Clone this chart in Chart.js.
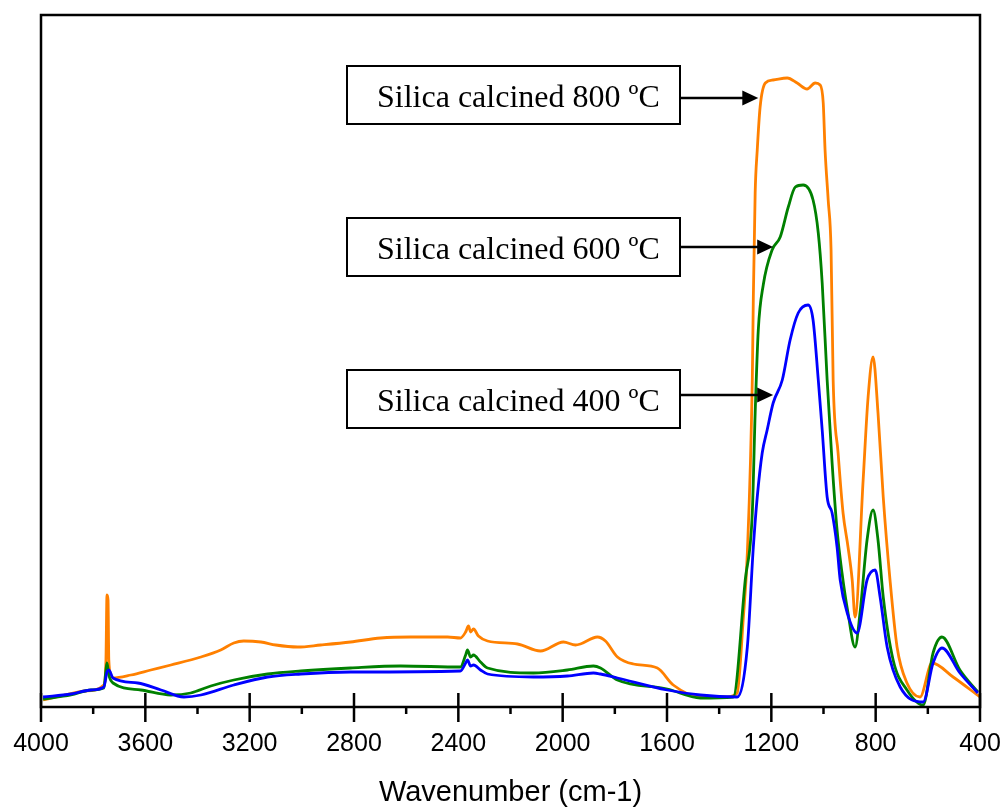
<!DOCTYPE html>
<html>
<head>
<meta charset="utf-8">
<script src="https://cdn.jsdelivr.net/npm/chart.js@4/dist/chart.umd.min.js"></script>
<style>
  html, body { margin: 0; padding: 0; background: #fff; }
  #wrap { width: 1005px; height: 812px; position: relative; }
</style>
</head>
<body>
<div id="wrap"><canvas id="c" width="1005" height="812"></canvas></div>
<script>
// ---- Data (wavenumber in cm-1, absorbance in arbitrary units) ----
const wn800 = [3992,3923,3828,3759,3751,3747,3743,3740,3732,3724,3655,3579,3502,3387,3311,3261,3223,3157,3100,3016,2928,2813,2698,2583,2441,2392,2372,2361,2353,2342,2323,2288,2173,2085,1997,1951,1932,1867,1836,1790,1729,1637,1576,1472,1369,1331,1308,1292,1273,1269,1262,1254,1243,1223,1193,1139,1101,1063,1032,1013,1001,994,982,971,963,944,925,906,890,879,848,829,810,791,771,745,718,680,630,584,503,400];
const abs800 = [0.07,0.11,0.16,0.22,0.47,1.12,1.07,0.47,0.32,0.29,0.32,0.37,0.42,0.50,0.57,0.64,0.66,0.65,0.62,0.60,0.62,0.65,0.69,0.70,0.70,0.69,0.75,0.81,0.75,0.78,0.71,0.66,0.63,0.56,0.65,0.62,0.63,0.70,0.66,0.50,0.43,0.39,0.22,0.10,0.10,0.14,0.87,1.54,3.27,4.10,5.14,5.57,6.00,6.24,6.27,6.29,6.24,6.18,6.24,6.22,6.04,5.57,5.07,4.57,3.27,2.54,1.94,1.60,1.27,0.90,2.27,3.10,3.50,2.94,2.10,1.27,0.60,0.24,0.10,0.44,0.30,0.10];

const wn600 = [3992,3885,3808,3759,3751,3747,3740,3724,3617,3502,3426,3349,3261,3131,3004,2813,2621,2392,2372,2365,2353,2342,2315,2288,2112,1982,1882,1855,1790,1599,1472,1346,1300,1273,1262,1250,1231,1197,1166,1135,1108,1078,1040,1020,1005,986,967,948,929,906,879,860,833,810,791,771,733,680,618,580,546,477,408];
const abs600 = [0.08,0.12,0.17,0.19,0.37,0.44,0.32,0.24,0.17,0.12,0.14,0.21,0.27,0.33,0.36,0.39,0.41,0.40,0.52,0.57,0.50,0.52,0.45,0.39,0.34,0.37,0.41,0.39,0.27,0.18,0.09,0.10,1.27,1.94,2.94,3.77,4.22,4.57,4.70,5.00,5.20,5.22,5.07,4.74,4.24,3.27,2.44,1.77,1.34,0.94,0.60,0.94,1.67,1.97,1.67,1.10,0.47,0.17,0.02,0.54,0.70,0.37,0.15];

const wn400 = [3992,3885,3808,3759,3747,3740,3724,3629,3540,3452,3387,3261,3131,3004,2813,2392,2372,2365,2353,2342,2315,2288,2112,1982,1882,1855,1790,1599,1472,1331,1292,1269,1254,1235,1216,1193,1158,1128,1097,1059,1040,1020,1005,986,967,948,936,909,871,833,802,783,756,706,618,580,546,477,408];
const abs400 = [0.10,0.13,0.17,0.20,0.35,0.37,0.29,0.24,0.17,0.10,0.12,0.22,0.30,0.33,0.35,0.36,0.44,0.47,0.41,0.42,0.37,0.33,0.30,0.31,0.34,0.33,0.29,0.17,0.12,0.10,0.60,1.60,2.10,2.54,2.77,3.04,3.27,3.67,3.94,4.02,3.87,3.27,2.77,2.10,1.94,1.60,1.27,0.94,0.74,1.27,1.37,1.10,0.60,0.20,0.05,0.44,0.59,0.34,0.14];

const seriesLabels = ['Silica calcined 400 ºC', 'Silica calcined 600 ºC', 'Silica calcined 800 ºC'];
const xTickValues = [4000, 3600, 3200, 2800, 2400, 2000, 1600, 1200, 800, 400];
const xAxisTitle = 'Wavenumber (cm-1)';
// arrow targets (wavenumber, absorbance) for each label
const arrowTipWn = [1193, 1193, 1250];
const arrowTipAbs = [3.12, 4.60, 6.09];

// ---- Build chart ----
function pts(xs, ys) { return xs.map((x, i) => ({ x: x, y: ys[i] })); }

const colors = ['#0000ff', '#008000', '#ff8000'];

const frameAndTicks = {
  id: 'frameAndTicks',
  afterDraw(chart) {
    const { ctx, chartArea: a, scales } = chart;
    const xs = scales.x;
    ctx.save();
    ctx.strokeStyle = '#000';
    ctx.lineWidth = 2.5;
    ctx.strokeRect(a.left, a.top, a.right - a.left, a.bottom - a.top);
    ctx.lineWidth = 2.5;
    for (let v = 400; v <= 4000; v += 200) {
      const px = xs.getPixelForValue(v);
      ctx.beginPath();
      if (v % 400 === 0) {
        ctx.moveTo(px, a.bottom - 14);
        ctx.lineTo(px, a.bottom + 15);
      } else {
        ctx.moveTo(px, a.bottom);
        ctx.lineTo(px, a.bottom + 7);
      }
      ctx.stroke();
    }
    ctx.restore();
  }
};

const boxes = {
  id: 'boxes',
  afterDraw(chart) {
    const { ctx, scales } = chart;
    const boxLeft = 347, boxRight = 680, boxH = 58;
    const boxTops = [370, 218, 66];
    ctx.save();
    ctx.font = '32px "Liberation Serif", "Times New Roman", serif';
    ctx.textBaseline = 'alphabetic';
    for (let i = 0; i < 3; i++) {
      const top = boxTops[i];
      ctx.fillStyle = '#fff';
      ctx.fillRect(boxLeft, top, boxRight - boxLeft, boxH);
      ctx.strokeStyle = '#000';
      ctx.lineWidth = 2;
      ctx.strokeRect(boxLeft, top, boxRight - boxLeft, boxH);
      ctx.fillStyle = '#000';
      ctx.textAlign = 'left';
      ctx.fillText(seriesLabels[i], 377, top + 41);
      // arrow
      const tx = scales.x.getPixelForValue(arrowTipWn[i]);
      const ty = scales.y.getPixelForValue(arrowTipAbs[i]);
      ctx.lineWidth = 2.5;
      ctx.beginPath();
      ctx.moveTo(boxRight, ty);
      ctx.lineTo(tx - 12, ty);
      ctx.stroke();
      ctx.beginPath();
      ctx.moveTo(tx, ty);
      ctx.lineTo(tx - 16, ty - 7.5);
      ctx.lineTo(tx - 16, ty + 7.5);
      ctx.closePath();
      ctx.fill();
    }
    ctx.restore();
  }
};

new Chart(document.getElementById('c'), {
  type: 'line',
  data: {
    datasets: [
      { label: seriesLabels[0], data: pts(wn400, abs400), borderColor: colors[0] },
      { label: seriesLabels[1], data: pts(wn600, abs600), borderColor: colors[1] },
      { label: seriesLabels[2], data: pts(wn800, abs800), borderColor: colors[2] }
    ].map(d => Object.assign(d, { borderWidth: 2.8, pointRadius: 0, fill: false, cubicInterpolationMode: 'monotone' }))
  },
  options: {
    responsive: false,
    animation: false,
    devicePixelRatio: 1,
    layout: { padding: { left: 41, right: 25, top: 15, bottom: 0 } },
    plugins: { legend: { display: false }, tooltip: { enabled: false } },
    scales: {
      x: {
        type: 'linear',
        reverse: true,
        min: 400,
        max: 4000,
        afterFit(scale) { scale.height = 105; scale.paddingLeft = 0; scale.paddingRight = 0; },
        afterBuildTicks(scale) { scale.ticks = xTickValues.map(v => ({ value: v })); },
        grid: { display: false, drawTicks: false },
        border: { display: false },
        ticks: {
          autoSkip: false,
          maxRotation: 0,
          padding: 22,
          color: '#000',
          font: { family: '"Liberation Sans", Arial, sans-serif', size: 25 },
          callback: v => String(v)
        },
        title: {
          display: true,
          text: xAxisTitle,
          color: '#000',
          font: { family: '"Liberation Sans", Arial, sans-serif', size: 29 },
          padding: { top: 0, bottom: 2 }
        }
      },
      y: {
        display: false,
        min: 0,
        max: 6.92
      }
    }
  },
  plugins: [frameAndTicks, boxes]
});
</script>
</body>
</html>
